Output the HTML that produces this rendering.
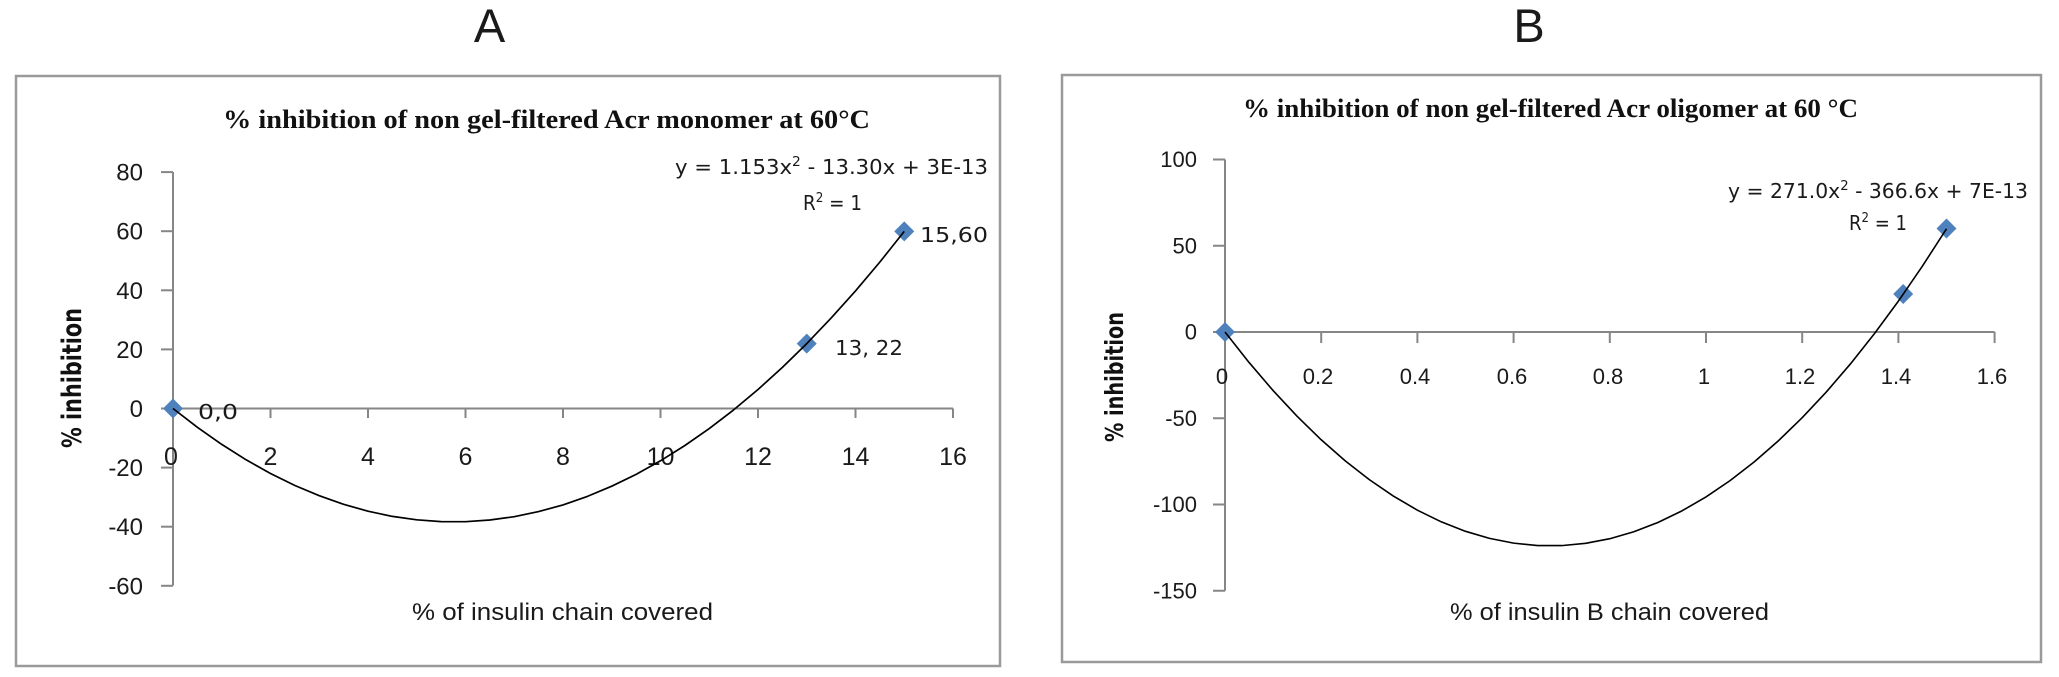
<!DOCTYPE html>
<html>
<head>
<meta charset="utf-8">
<style>
  html, body { margin: 0; padding: 0; background: #ffffff; }
  svg { display: block; }
  .tt { font-family: "Liberation Serif", serif; font-weight: bold; fill: #111; }
  .tk { font-family: "Liberation Sans", sans-serif; fill: #1a1a1a; }
  .eq { font-family: "DejaVu Sans", "Liberation Sans", sans-serif; fill: #1a1a1a; }
  .yl { font-family: "DejaVu Sans", "Liberation Sans", sans-serif; font-weight: bold; fill: #111; }
</style>
</head>
<body>
<svg width="2059" height="677" viewBox="0 0 2059 677" xmlns="http://www.w3.org/2000/svg">
  <rect x="0" y="0" width="2059" height="677" fill="#ffffff"/>

  <!-- Panel letters -->
  <text x="489.5" y="42" class="tk" font-size="47" text-anchor="middle" fill="#000">A</text>
  <text x="1529" y="42" class="tk" font-size="47" text-anchor="middle" fill="#000">B</text>

  <!-- ================= CHART A ================= -->
  <rect x="16" y="76" width="984" height="590" fill="none" stroke="#9a9a9a" stroke-width="2.5"/>
  <text x="223" y="128" class="tt" font-size="26" textLength="647" lengthAdjust="spacingAndGlyphs">% inhibition of non gel-filtered Acr monomer at 60°C</text>

  <!-- axes -->
  <g stroke="#868686" stroke-width="2" fill="none">
    <line x1="173" y1="172" x2="173" y2="585.5"/>
    <line x1="173" y1="408.5" x2="953" y2="408.5"/>
    <!-- y ticks -->
    <line x1="161" y1="172.1" x2="173" y2="172.1"/>
    <line x1="161" y1="231.2" x2="173" y2="231.2"/>
    <line x1="161" y1="290.3" x2="173" y2="290.3"/>
    <line x1="161" y1="349.4" x2="173" y2="349.4"/>
    <line x1="161" y1="408.5" x2="173" y2="408.5"/>
    <line x1="161" y1="467.6" x2="173" y2="467.6"/>
    <line x1="161" y1="526.7" x2="173" y2="526.7"/>
    <line x1="161" y1="585.8" x2="173" y2="585.8"/>
    <!-- x ticks -->
    <line x1="173" y1="408.5" x2="173" y2="418"/>
    <line x1="270.5" y1="408.5" x2="270.5" y2="418"/>
    <line x1="368" y1="408.5" x2="368" y2="418"/>
    <line x1="465.5" y1="408.5" x2="465.5" y2="418"/>
    <line x1="563" y1="408.5" x2="563" y2="418"/>
    <line x1="660.5" y1="408.5" x2="660.5" y2="418"/>
    <line x1="758" y1="408.5" x2="758" y2="418"/>
    <line x1="855.5" y1="408.5" x2="855.5" y2="418"/>
    <line x1="953" y1="408.5" x2="953" y2="418"/>
  </g>

  <!-- y tick labels -->
  <g class="tk" font-size="24" text-anchor="end">
    <text x="143" y="180.6">80</text>
    <text x="143" y="239.7">60</text>
    <text x="143" y="298.8">40</text>
    <text x="143" y="357.9">20</text>
    <text x="143" y="417">0</text>
    <text x="143" y="476.1">-20</text>
    <text x="143" y="535.2">-40</text>
    <text x="143" y="594.3">-60</text>
  </g>
  <!-- x tick labels -->
  <g class="tk" font-size="25" text-anchor="middle">
    <text x="171" y="465">0</text>
    <text x="270.5" y="465">2</text>
    <text x="368" y="465">4</text>
    <text x="465.5" y="465">6</text>
    <text x="563" y="465">8</text>
    <text x="660.5" y="465">10</text>
    <text x="758" y="465">12</text>
    <text x="855.5" y="465">14</text>
    <text x="953" y="465">16</text>
  </g>

  <!-- axis titles -->
  <text x="412" y="620" class="tk" font-size="24" textLength="301" lengthAdjust="spacingAndGlyphs">% of insulin  chain  covered</text>
  <text transform="translate(81,378) rotate(-90)" x="-70" y="0" class="yl" font-size="27" textLength="140" lengthAdjust="spacingAndGlyphs">% inhibition</text>

  <!-- equation -->
  <text x="675" y="174" class="eq" font-size="20" textLength="313" lengthAdjust="spacingAndGlyphs">y = 1.153x<tspan dy="-8" font-size="13">2</tspan><tspan dy="8"> - 13.30x + 3E-13</tspan></text>
  <text x="803" y="210" class="eq" font-size="20" textLength="59" lengthAdjust="spacingAndGlyphs">R<tspan dy="-8" font-size="13">2</tspan><tspan dy="8"> = 1</tspan></text>

  <!-- markers A -->
  <g fill="#4F81BD">
    <polygon points="173,398.5 183,408.5 173,418.5 163,408.5"/>
    <polygon points="806.75,333.6 816.75,343.6 806.75,353.6 796.75,343.6"/>
    <polygon points="904.25,221.4 914.25,231.4 904.25,241.4 894.25,231.4"/>
  </g>

  <!-- curve A -->
  <polyline fill="none" stroke="#000" stroke-width="1.7" stroke-linejoin="round"
    points="173,408.5 197.4,427.3 221.75,444.4 246.1,459.8 270.5,473.5 294.9,485.5 319.25,495.7 343.6,504.3 368,511.2 392.4,516.4 416.75,519.8 441.1,521.6 465.5,521.7 489.9,520 514.25,516.7 538.6,511.6 563,504.9 587.4,496.4 611.75,486.2 636.1,474.4 660.5,460.8 684.9,445.5 709.25,428.6 733.6,409.9 758,389.5 782.4,367.4 806.75,343.6 831.1,318.1 855.5,290.9 879.9,262 904.25,231.4"/>

  <!-- data labels A -->
  <g class="eq" font-size="20">
    <text x="198" y="419" textLength="40" lengthAdjust="spacingAndGlyphs">0,0</text>
    <text x="835" y="355" textLength="68" lengthAdjust="spacingAndGlyphs">13, 22</text>
    <text x="920" y="242" textLength="68" lengthAdjust="spacingAndGlyphs">15,60</text>
  </g>

  <!-- ================= CHART B ================= -->
  <rect x="1062" y="75" width="979" height="587" fill="none" stroke="#9a9a9a" stroke-width="2.5"/>
  <text x="1243" y="117" class="tt" font-size="26" textLength="615" lengthAdjust="spacingAndGlyphs">% inhibition of non gel-filtered Acr oligomer at 60 °C</text>

  <g stroke="#868686" stroke-width="2" fill="none">
    <line x1="1225" y1="159.5" x2="1225" y2="590.75"/>
    <line x1="1225" y1="332" x2="1994.6" y2="332"/>
    <!-- y ticks -->
    <line x1="1213" y1="159.5" x2="1225" y2="159.5"/>
    <line x1="1213" y1="245.75" x2="1225" y2="245.75"/>
    <line x1="1213" y1="332" x2="1225" y2="332"/>
    <line x1="1213" y1="418.25" x2="1225" y2="418.25"/>
    <line x1="1213" y1="504.5" x2="1225" y2="504.5"/>
    <line x1="1213" y1="590.75" x2="1225" y2="590.75"/>
    <!-- x ticks -->
    <line x1="1225" y1="332" x2="1225" y2="343"/>
    <line x1="1321.2" y1="332" x2="1321.2" y2="343"/>
    <line x1="1417.4" y1="332" x2="1417.4" y2="343"/>
    <line x1="1513.6" y1="332" x2="1513.6" y2="343"/>
    <line x1="1609.8" y1="332" x2="1609.8" y2="343"/>
    <line x1="1706" y1="332" x2="1706" y2="343"/>
    <line x1="1802.2" y1="332" x2="1802.2" y2="343"/>
    <line x1="1898.4" y1="332" x2="1898.4" y2="343"/>
    <line x1="1994.6" y1="332" x2="1994.6" y2="343"/>
  </g>

  <g class="tk" font-size="22" text-anchor="end">
    <text x="1197" y="167">100</text>
    <text x="1197" y="253.25">50</text>
    <text x="1197" y="339.5">0</text>
    <text x="1197" y="425.75">-50</text>
    <text x="1197" y="512">-100</text>
    <text x="1197" y="598.25">-150</text>
  </g>
  <g class="tk" font-size="22" text-anchor="middle">
    <text x="1222" y="384">0</text>
    <text x="1318" y="384">0.2</text>
    <text x="1415" y="384">0.4</text>
    <text x="1512" y="384">0.6</text>
    <text x="1608" y="384">0.8</text>
    <text x="1704" y="384">1</text>
    <text x="1800" y="384">1.2</text>
    <text x="1896" y="384">1.4</text>
    <text x="1992" y="384">1.6</text>
  </g>

  <text x="1450" y="620" class="tk" font-size="24" textLength="319" lengthAdjust="spacingAndGlyphs">% of insulin  B  chain  covered</text>
  <text transform="translate(1123,377) rotate(-90)" x="-65" y="0" class="yl" font-size="25" textLength="130" lengthAdjust="spacingAndGlyphs">% inhibition</text>

  <text x="1728" y="198" class="eq" font-size="20" textLength="300" lengthAdjust="spacingAndGlyphs">y = 271.0x<tspan dy="-8" font-size="13">2</tspan><tspan dy="8"> - 366.6x + 7E-13</tspan></text>
  <text x="1849" y="230" class="eq" font-size="20" textLength="58" lengthAdjust="spacingAndGlyphs">R<tspan dy="-8" font-size="13">2</tspan><tspan dy="8"> = 1</tspan></text>

  <g fill="#4F81BD">
    <polygon points="1225,322 1235,332 1225,342 1215,332"/>
    <polygon points="1903.2,284 1913.2,294 1903.2,304 1893.2,294"/>
    <polygon points="1946.5,218.5 1956.5,228.5 1946.5,238.5 1936.5,228.5"/>
  </g>

  <polyline fill="none" stroke="#000" stroke-width="1.6" stroke-linejoin="round"
    points="1225,332 1249.05,362.45 1273.1,390.56 1297.15,416.34 1321.2,439.78 1345.25,460.88 1369.3,479.64 1393.35,496.07 1417.4,510.16 1441.45,521.91 1465.5,531.32 1489.55,538.4 1513.6,543.14 1537.65,545.54 1561.7,545.61 1585.75,543.33 1609.8,538.72 1633.85,531.78 1657.9,522.49 1681.95,510.87 1706,496.91 1730.05,480.61 1754.1,461.98 1778.15,441.01 1802.2,417.7 1826.25,392.05 1850.3,364.07 1874.35,333.75 1898.4,301.09 1922.45,266.09 1946.5,228.76"/>
</svg>
</body>
</html>
